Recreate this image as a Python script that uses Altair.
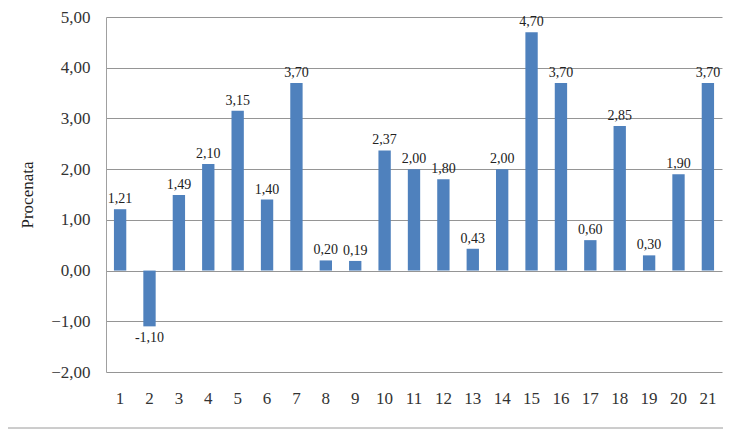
import altair as alt
import pandas as pd

categories = [str(i) for i in range(1, 22)]
values = [1.21, -1.10, 1.49, 2.10, 3.15, 1.40, 3.70, 0.20, 0.19, 2.37, 2.00,
          1.80, 0.43, 2.00, 4.70, 3.70, 0.60, 2.85, 0.30, 1.90, 3.70]

df = pd.DataFrame({"cat": categories, "val": values})
df["lab"] = df["val"].map(lambda v: f"{v:.2f}".replace(".", ","))

FONT = "Liberation Serif"

x = alt.X("cat:N", sort=categories, title=None,
          scale=alt.Scale(paddingInner=0.58, paddingOuter=0.27),
          axis=alt.Axis(labelAngle=0, labelFont=FONT, labelFontSize=17,
                        labelColor="#333333", labelPadding=18, ticks=False,
                        domain=False))
y = alt.Y("val:Q", title="Procenata",
          scale=alt.Scale(domain=[-2, 5], nice=False),
          axis=alt.Axis(values=[-2, -1, 0, 1, 2, 3, 4, 5],
                        labelExpr="replace(format(datum.value, '.2f'), '.', ',')",
                        labelFont=FONT, labelFontSize=17, labelColor="#333333",
                        labelPadding=16, ticks=False, domainColor="#A0A0A0",
                        gridColor="#959595", titleFont=FONT, titleFontSize=17,
                        titleFontWeight="normal", titleColor="#222222",
                        titlePadding=14))

base = alt.Chart(df)

bars = base.mark_bar(color="#4F81BD").encode(x=x, y=y)

pos = base.transform_filter("datum.val >= 0").mark_text(
    font=FONT, fontSize=14, dy=-10, color="#222222").encode(
    x=alt.X("cat:N", sort=categories), y="val:Q", text="lab:N")
neg = base.transform_filter("datum.val < 0").mark_text(
    font=FONT, fontSize=14, dy=12, color="#222222").encode(
    x=alt.X("cat:N", sort=categories), y="val:Q", text="lab:N")

frame = alt.Chart(pd.DataFrame({"a": [0]})).mark_rule(
    color="#9A9A9A", strokeWidth=1).encode(
    x=alt.value(-98), x2=alt.value(617), y=alt.value(411))

chart = alt.layer(bars, pos, neg, frame).properties(
    width=616, height=355,
    padding={"left": 98, "top": 9, "right": 1, "bottom": 62},
    autosize=alt.AutoSizeParams(type="none"),
    background="white",
).configure_view(stroke=None)

chart.save("out.html", embed_options={"renderer": "svg", "actions": False})
